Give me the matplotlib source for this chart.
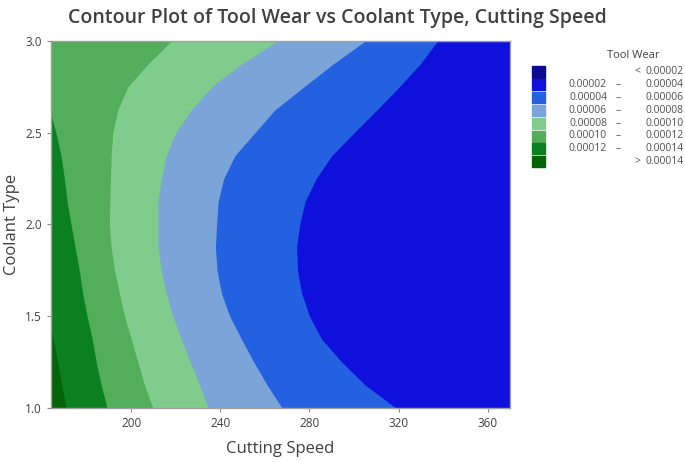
import numpy as np
import matplotlib
matplotlib.use('Agg')
import matplotlib.pyplot as plt
from matplotlib.patches import Rectangle

plt.rcParams['font.family'] = ['Open Sans', 'DejaVu Sans']

W, H = 685, 462

speed_range = (164, 370)
coolant_type = [1.0, 1.125, 1.25, 1.375, 1.5, 1.625, 1.75, 1.875, 2.0,
                2.125, 2.25, 2.375, 2.5, 2.625, 2.75, 2.875, 3.0]

# cutting speed where each contour level is crossed, per coolant row
# (values below 164 lie left of the visible area)
edge_14 = [170.8, 168.8, 167.0, 165.0, 162.5, 162.5, 162.5, 162.5, 162.5,
           162.5, 162.5, 162.5, 162.5, 162.5, 162.5, 162.5, 162.5]
edge_12 = [189.2, 186.5, 184.3, 182.5, 180.2, 178.2, 176.7, 174.8, 173.0,
           171.2, 170.0, 168.5, 166.2, 163.5, 163.5, 163.5, 163.5]
edge_10 = [209.7, 206.0, 203.0, 200.0, 197.0, 194.7, 192.5, 191.0, 190.2,
           190.4, 190.7, 191.0, 191.7, 194.0, 198.5, 207.5, 218.0]
edge_8 = [234.5, 230.7, 226.5, 222.5, 218.7, 215.7, 213.5, 212.0, 212.0,
          212.0, 213.5, 215.7, 220.0, 227.0, 236.0, 249.5, 265.5]
edge_6 = [267.7, 261.0, 255.0, 249.5, 244.2, 240.5, 238.5, 237.8, 238.3,
          239.0, 241.5, 246.5, 255.5, 264.5, 277.5, 290.7, 305.0]
edge_4 = [318.8, 305.0, 294.5, 285.5, 280.0, 276.5, 274.6, 274.2, 275.6,
          278.0, 283.0, 290.0, 300.0, 310.3, 320.3, 329.7, 337.5]

levels = [0.00002, 0.00004, 0.00006, 0.00008, 0.00010, 0.00012, 0.00014]
band_colors = ['#0B0B92', '#1010DC', '#2361E0', '#7BA5D8',
               '#80CC8D', '#52AE5A', '#0A8021', '#056408']

x_ticks = [200, 240, 280, 320, 360]
y_ticks = [1.0, 1.5, 2.0, 2.5, 3.0]

fig = plt.figure(figsize=(W / 100, H / 100), dpi=100)
ax = fig.add_axes([51 / W, 1 - 408 / H, 459 / W, 367 / H])

# paint from the highest wear band (left) to the lowest (right)
ax.fill_betweenx(coolant_type, speed_range[0], speed_range[1],
                 color=band_colors[7], lw=0)
edges = [edge_14, edge_12, edge_10, edge_8, edge_6, edge_4]
for i, edge in enumerate(edges):
    ax.fill_betweenx(coolant_type, edge, speed_range[1],
                     color=band_colors[6 - i], lw=0)

ax.set_xlim(*speed_range)
ax.set_ylim(coolant_type[0], coolant_type[-1])
ax.set_xticks(x_ticks)
ax.set_yticks(y_ticks)
ax.set_yticklabels([f'{v:.1f}' for v in y_ticks])
ax.tick_params(colors='#8a8a8a', labelcolor='#404040', labelsize=8.5,
               length=3, width=0.8)
for sp in ax.spines.values():
    sp.set_color('#a0a0a0')
    sp.set_linewidth(1.0)

ax.set_xlabel('Cutting Speed', fontsize=12, color='#404040', labelpad=8)
ax.set_ylabel('Coolant Type', fontsize=12, color='#404040', labelpad=4)
fig.text(337 / W, 1 - 18 / H,
         'Contour Plot of Tool Wear vs Coolant Type, Cutting Speed',
         ha='center', va='center', fontsize=14, fontweight='semibold',
         color='#404040')


# legend drawn by hand to get the two-column number layout
def fx(px):
    return px / W


def fy(py):
    return 1 - py / H


fs = 7.5
fig.text(fx(633), fy(56), 'Tool Wear', ha='center', va='center',
         fontsize=8, color='#404040')
for i, col in enumerate(band_colors):
    y = 72 + 12.8 * i
    fig.patches.append(Rectangle((fx(532), fy(y + 5.5)), 13 / W, 11 / H,
                                 transform=fig.transFigure, color=col))
    if i == 0:
        fig.text(fx(637), fy(y), '<', ha='center', va='center',
                 fontsize=fs, color='#505050')
        fig.text(fx(684), fy(y), f'{levels[0]:.5f}', ha='right',
                 va='center', fontsize=fs, color='#505050')
    elif i == len(band_colors) - 1:
        fig.text(fx(637), fy(y), '>', ha='center', va='center',
                 fontsize=fs, color='#505050')
        fig.text(fx(684), fy(y), f'{levels[-1]:.5f}', ha='right',
                 va='center', fontsize=fs, color='#505050')
    else:
        fig.text(fx(607), fy(y), f'{levels[i - 1]:.5f}', ha='right',
                 va='center', fontsize=fs, color='#505050')
        fig.text(fx(618), fy(y), '–', ha='center', va='center',
                 fontsize=fs, color='#505050')
        fig.text(fx(684), fy(y), f'{levels[i]:.5f}', ha='right',
                 va='center', fontsize=fs, color='#505050')

fig.savefig('out.png', dpi=100)
